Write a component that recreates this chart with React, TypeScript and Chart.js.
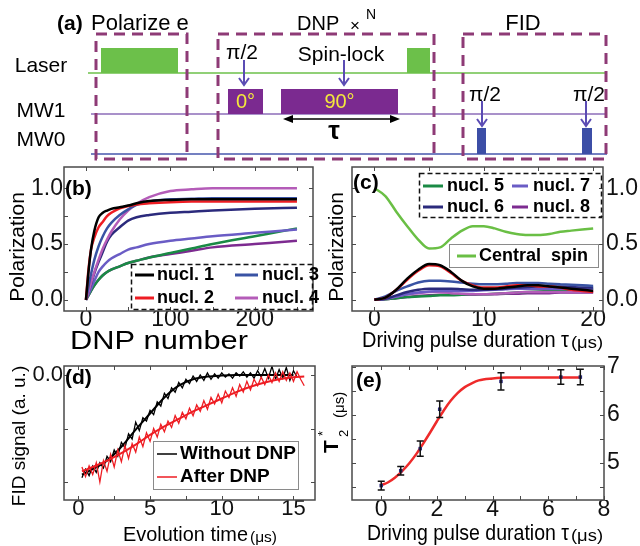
import React, { useEffect, useRef } from "react";
import { Chart, registerables } from "chart.js";

Chart.register(...registerables);

const W = 640;
const H = 546;
const SANS = "'Liberation Sans', Arial, sans-serif";

// ================= (a) pulse sequence (schematic time units) =================
const channelNames = ["Laser", "MW1", "MW0"];
const channelStart = [88, 91, 91];
const channelEnd = 607;
const laserPulses = [[101, 178], [407, 430]];
const mw1Pulses = [[228, 263], [281, 398]];
const mw1PhaseLabels = ["0°", "90°"];
const mw0Pulses = [[477, 486], [582, 592]];
const stageSpans = [[96, 187], [218, 434], [463, 606]];
const piHalfDnp = [244];
const piHalfFid = [482, 586];
const spinLockTime = 344;
const tauSpan = [283, 400];

// ================= (b) polarization vs DNP number =================
const dnpNumber = [0, 3, 6, 10, 15, 20, 25, 30, 40, 50, 60, 75, 100, 125, 150, 200, 250];
const nucl1B = [0, 0.25, 0.45, 0.62, 0.74, 0.78, 0.8, 0.815, 0.83, 0.845, 0.865, 0.885, 0.895, 0.9, 0.9, 0.9, 0.9];
const nucl2B = [0, 0.27, 0.45, 0.56, 0.65, 0.7, 0.75, 0.78, 0.82, 0.84, 0.855, 0.865, 0.875, 0.88, 0.88, 0.88, 0.88];
const nucl3B = [0, 0.12, 0.23, 0.36, 0.48, 0.57, 0.64, 0.69, 0.76, 0.81, 0.85, 0.88, 0.9, 0.905, 0.91, 0.91, 0.91];
const nucl4B = [0, 0.07, 0.15, 0.25, 0.36, 0.46, 0.54, 0.61, 0.72, 0.8, 0.86, 0.92, 0.975, 0.99, 1.0, 1.0, 1.0];
const nucl5B = [0, 0.04, 0.08, 0.13, 0.18, 0.22, 0.25, 0.27, 0.3, 0.33, 0.35, 0.38, 0.42, 0.46, 0.5, 0.57, 0.64];
const nucl6B = [0, 0.07, 0.14, 0.24, 0.34, 0.43, 0.52, 0.58, 0.65, 0.71, 0.74, 0.76, 0.78, 0.79, 0.8, 0.815, 0.825];
const nucl7B = [0, 0.05, 0.1, 0.17, 0.25, 0.3, 0.34, 0.37, 0.41, 0.45, 0.47, 0.5, 0.53, 0.55, 0.57, 0.6, 0.63];
const nucl8B = [0, 0.04, 0.08, 0.13, 0.18, 0.22, 0.25, 0.27, 0.3, 0.33, 0.35, 0.38, 0.41, 0.44, 0.47, 0.5, 0.53];
const bTicksX = [0, 100, 200];
const bTicksY = [0, 0.5, 1];

// ================= (c) polarization vs driving pulse duration =================
const tauC = [0, 1, 2, 3, 4, 5, 6, 7, 8, 9, 10, 11, 12, 13, 14, 15, 16, 17, 18, 19, 20];
const centralC = [1.0, 0.93, 0.79, 0.66, 0.54, 0.46, 0.47, 0.55, 0.62, 0.66, 0.66, 0.64, 0.61, 0.59, 0.58, 0.58, 0.59, 0.61, 0.62, 0.63, 0.64];
const nucl1C = [0, 0.02, 0.09, 0.19, 0.27, 0.32, 0.31, 0.25, 0.17, 0.12, 0.1, 0.1, 0.11, 0.12, 0.13, 0.13, 0.12, 0.11, 0.1, 0.09, 0.08];
const nucl2C = [0, 0.02, 0.09, 0.18, 0.26, 0.31, 0.3, 0.24, 0.17, 0.13, 0.11, 0.11, 0.12, 0.13, 0.13, 0.12, 0.12, 0.11, 0.09, 0.08, 0.07];
const nucl3C = [0, 0.03, 0.08, 0.12, 0.155, 0.17, 0.17, 0.165, 0.155, 0.145, 0.14, 0.14, 0.145, 0.15, 0.15, 0.15, 0.145, 0.14, 0.135, 0.13, 0.125];
const nucl4C = [0, 0.01, 0.03, 0.05, 0.06, 0.07, 0.07, 0.06, 0.055, 0.05, 0.05, 0.055, 0.06, 0.065, 0.07, 0.07, 0.07, 0.07, 0.07, 0.07, 0.07];
const nucl5C = [0, 0.005, 0.015, 0.025, 0.03, 0.035, 0.04, 0.04, 0.045, 0.05, 0.05, 0.055, 0.06, 0.065, 0.07, 0.075, 0.08, 0.085, 0.09, 0.095, 0.1];
const nucl6C = [0, 0.01, 0.04, 0.07, 0.09, 0.1, 0.1, 0.1, 0.095, 0.09, 0.09, 0.095, 0.1, 0.11, 0.115, 0.12, 0.12, 0.12, 0.115, 0.11, 0.11];
const nucl7C = [0, 0.01, 0.03, 0.05, 0.065, 0.075, 0.08, 0.08, 0.08, 0.08, 0.085, 0.09, 0.095, 0.1, 0.1, 0.1, 0.1, 0.1, 0.1, 0.1, 0.1];
const nucl8C = [0, 0.005, 0.015, 0.025, 0.035, 0.04, 0.045, 0.045, 0.045, 0.045, 0.05, 0.05, 0.055, 0.055, 0.06, 0.06, 0.06, 0.065, 0.065, 0.065, 0.065];
const cTicksX = [0, 10, 20];
const cTicksY = [0, 0.5, 1];

// ================= (d) FID signal =================
const timeD = [0.25, 0.5, 0.75, 1, 1.25, 1.5, 1.75, 2, 2.25, 2.5, 2.75, 3, 3.25, 3.5, 3.75, 4, 4.25, 4.5, 4.75, 5,
  5.25, 5.5, 5.75, 6, 6.25, 6.5, 6.75, 7, 7.25, 7.5, 7.75, 8, 8.25, 8.5, 8.75, 9, 9.25, 9.5, 9.75, 10,
  10.25, 10.5, 10.75, 11, 11.25, 11.5, 11.75, 12, 12.25, 12.5, 12.75, 13, 13.25, 13.5, 13.75, 14, 14.25, 14.5, 14.75, 15,
  15.25, 15.5, 15.75];
const withoutDnp = [-0.96, -0.88, -0.94, -0.85, -0.91, -0.82, -0.87, -0.76, -0.81, -0.7, -0.76, -0.63, -0.68, -0.55, -0.6, -0.44, -0.52, -0.4, -0.43, -0.33,
  -0.37, -0.25, -0.29, -0.17, -0.22, -0.12, -0.16, -0.07, -0.12, -0.04, -0.08, -0.01, -0.06, 0.0, -0.05, 0.02, -0.04, 0.01, -0.03, 0.02,
  -0.02, 0.01, -0.03, 0.02, -0.01, 0.03, -0.02, 0.02, -0.03, 0.04, -0.02, 0.06, -0.03, 0.08, -0.04, 0.05, -0.03, 0.07, -0.05, 0.04,
  -0.02];
const afterDnp = [-0.86, -0.95, -0.85, -0.93, -0.82, -1.0, -0.8, -0.9, -0.74, -0.86, -0.7, -0.81, -0.66, -0.78, -0.64, -0.72, -0.58, -0.67, -0.54, -0.62,
  -0.5, -0.58, -0.46, -0.53, -0.43, -0.49, -0.38, -0.45, -0.35, -0.41, -0.31, -0.38, -0.28, -0.34, -0.24, -0.32, -0.21, -0.27, -0.18, -0.26,
  -0.15, -0.21, -0.12, -0.2, -0.09, -0.16, -0.06, -0.14, -0.04, -0.1, -0.02, -0.09, 0.0, -0.07, 0.02, -0.06, 0.03, -0.05, 0.02, -0.06,
  0.03, -0.04, -0.1];
const fitTimeWithout = [0.25, 1, 2, 3, 4, 5, 6, 7, 8, 9, 10, 11, 12, 13, 14, 15];
const fitWithout = [-0.93, -0.88, -0.8, -0.67, -0.51, -0.36, -0.21, -0.1, -0.04, -0.015, -0.005, 0, 0, 0, 0, 0];
const fitTimeAfter = [0.25, 1, 2, 3, 4, 5, 6, 7, 8, 9, 10, 11, 12, 13, 14, 15, 15.75];
const fitAfter = [-0.9, -0.86, -0.8, -0.73, -0.65, -0.56, -0.48, -0.41, -0.34, -0.28, -0.22, -0.16, -0.11, -0.07, -0.04, -0.02, -0.015];
const dTicksX = [0, 5, 10, 15];
const dTicksY = [0];

// ================= (e) T2* vs driving pulse duration =================
const tauE = [0, 0.7, 1.4, 2.1, 4.3, 6.45, 7.15];
const t2Star = [4.53, 4.84, 5.3, 6.12, 6.7, 6.79, 6.79];
const t2Err = [0.09, 0.09, 0.16, 0.17, 0.18, 0.15, 0.16];
const fitTauE = [0, 0.25, 0.5, 0.75, 1, 1.25, 1.5, 1.75, 2, 2.25, 2.5, 2.75, 3, 3.25, 3.5, 4, 4.5, 5, 6, 7.2];
const fitT2 = [4.54, 4.6, 4.7, 4.83, 4.99, 5.18, 5.4, 5.63, 5.87, 6.1, 6.3, 6.46, 6.58, 6.66, 6.72, 6.76, 6.78, 6.78, 6.78, 6.78];
const eTicksX = [0, 2, 4, 6, 8];
const eTicksY = [5, 6, 7];

// ================= helpers =================
const COLORS: Record<string, string> = {
  "nucl. 1": "#000000",
  "nucl. 2": "#ee1d23",
  "nucl. 3": "#3953a4",
  "nucl. 4": "#b45cb8",
  "nucl. 5": "#1a8a45",
  "nucl. 6": "#2b2a7c",
  "nucl. 7": "#6a5cc5",
  "nucl. 8": "#7d2b90",
  "Central  spin": "#6abf45",
};

function pts(xs: number[], ys: number[]) {
  return ys.map((y, i) => ({ x: xs[i], y }));
}

function txt(ctx: CanvasRenderingContext2D, s: string, x: number, y: number, font: string, o: any = {}) {
  ctx.save();
  ctx.translate(x, y);
  if (o.rot) ctx.rotate(o.rot);
  ctx.font = font;
  ctx.textAlign = o.align || "left";
  ctx.textBaseline = o.baseline || "alphabetic";
  ctx.fillStyle = o.color || "#000";
  if (o.width) {
    const m = ctx.measureText(s).width;
    ctx.scale(o.width / m, 1);
  }
  ctx.fillText(s, 0, 0);
  ctx.restore();
}

function axis(o: { pos: string; min: number; max: number; ticks: number[]; fmt: (v: number) => string; size: number; font: number; pad: number }) {
  const horiz = o.pos === "bottom";
  return {
    type: "linear",
    position: o.pos,
    min: o.min,
    max: o.max,
    grid: { display: false, drawTicks: false, tickLength: 0 },
    border: { display: false },
    ticks: {
      autoSkip: false,
      maxRotation: 0,
      minRotation: 0,
      padding: o.pad,
      color: "#111",
      font: { family: SANS, size: o.font },
      callback: (v: any) => o.fmt(Number(v)),
    },
    afterBuildTicks: (s: any) => {
      s.ticks = o.ticks.map((v) => ({ value: v }));
    },
    afterFit: (s: any) => {
      if (horiz) s.height = o.size;
      else s.width = o.size;
      s.paddingLeft = 0;
      s.paddingRight = 0;
      s.paddingTop = 0;
      s.paddingBottom = 0;
    },
  };
}

function framePlugin(xMarks: number[], yMarks: number[]) {
  return {
    id: "frame",
    afterDatasetsDraw(chart: any) {
      const { ctx, chartArea: a } = chart;
      const xs = chart.scales.x;
      const ys = chart.scales.y;
      ctx.save();
      ctx.strokeStyle = "#4a4a4a";
      ctx.lineWidth = 1.5;
      ctx.strokeRect(a.left, a.top, a.right - a.left, a.bottom - a.top);
      ctx.lineWidth = 1;
      ctx.beginPath();
      xMarks.forEach((v) => {
        const p = Math.round(xs.getPixelForValue(v)) + 0.5;
        ctx.moveTo(p, a.top);
        ctx.lineTo(p, a.top + 4);
        ctx.moveTo(p, a.bottom);
        ctx.lineTo(p, a.bottom - 4);
      });
      yMarks.forEach((v) => {
        const p = Math.round(ys.getPixelForValue(v)) + 0.5;
        ctx.moveTo(a.left, p);
        ctx.lineTo(a.left + 4, p);
        ctx.moveTo(a.right, p);
        ctx.lineTo(a.right - 4, p);
      });
      ctx.stroke();
      ctx.restore();
    },
  };
}

function legendBox(ctx: CanvasRenderingContext2D, x: number, y: number, w: number, h: number, dashed: boolean) {
  ctx.save();
  ctx.lineWidth = dashed ? 1.5 : 1;
  ctx.strokeStyle = dashed ? "#111" : "#8a8a8a";
  if (dashed) ctx.setLineDash([5, 3]);
  ctx.strokeRect(x + 0.5, y + 0.5, w, h);
  ctx.restore();
}

function legendItem(ctx: CanvasRenderingContext2D, label: string, color: string, x0: number, x1: number, y: number, tx: number, lw: number, font: string) {
  ctx.save();
  ctx.strokeStyle = color;
  ctx.lineWidth = lw;
  ctx.beginPath();
  ctx.moveTo(x0, y);
  ctx.lineTo(x1, y);
  ctx.stroke();
  ctx.restore();
  txt(ctx, label, tx, y, font, { baseline: "middle" });
}

function baseOptions(padding: any, scales: any) {
  return {
    responsive: false,
    animation: false,
    devicePixelRatio: 1,
    events: [],
    layout: { padding },
    plugins: { legend: { display: false }, tooltip: { enabled: false } },
    scales,
  };
}

const lineDs = (label: string, data: any[], color: string, width: number) => ({
  label,
  data,
  borderColor: color,
  backgroundColor: color,
  borderWidth: width,
  pointRadius: 0,
  cubicInterpolationMode: "monotone",
  fill: false,
});

// ================= chart configs =================
const ROW_Y = [73, 114, 154];

function makeA() {
  const lineColors = ["#6cc04a", "#8d6cb8", "#4656ac"];
  const plugin = {
    id: "seq",
    afterDatasetsDraw(chart: any) {
      const ctx: CanvasRenderingContext2D = chart.ctx;
      const X = (v: number) => chart.scales.x.getPixelForValue(v);
      const Y = (v: number) => chart.scales.y.getPixelForValue(v);
      const rect = (a: number, b: number, top: number, bottom: number, c: string) => {
        ctx.fillStyle = c;
        ctx.fillRect(X(a), Y(top), X(b) - X(a), Y(bottom) - Y(top));
      };
      ctx.save();
      laserPulses.forEach(([a, b]) => rect(a, b, ROW_Y[0] - 25, ROW_Y[0], "#6cc04a"));
      mw1Pulses.forEach(([a, b], i) => {
        rect(a, b, ROW_Y[1] - 25, ROW_Y[1], "#7b2a90");
        txt(ctx, mw1PhaseLabels[i], (X(a) + X(b)) / 2, Y(ROW_Y[1] - 12), `20px ${SANS}`, { align: "center", baseline: "middle", color: "#f3e83c" });
      });
      mw0Pulses.forEach(([a, b]) => rect(a, b, ROW_Y[2] - 26, ROW_Y[2], "#3c4ea6"));

      const down = (x: number, y0: number, y1: number) => {
        ctx.strokeStyle = "#5b4cb4";
        ctx.lineWidth = 2;
        ctx.beginPath();
        ctx.moveTo(X(x), Y(y0));
        ctx.lineTo(X(x), Y(y1));
        ctx.moveTo(X(x) - 5, Y(y1) - 7);
        ctx.lineTo(X(x), Y(y1));
        ctx.lineTo(X(x) + 5, Y(y1) - 7);
        ctx.stroke();
      };
      piHalfDnp.forEach((t) => {
        down(t, 60, 85);
        txt(ctx, "π/2", X(t) - 2, 53, `21px ${SANS}`, { align: "center", baseline: "middle" });
      });
      down(spinLockTime, 60, 85);
      txt(ctx, "Spin-lock", X(spinLockTime) - 3, 55, `21px ${SANS}`, { align: "center", baseline: "middle" });
      piHalfFid.forEach((t) => {
        down(t, 101, 126);
        txt(ctx, "π/2", X(t) + 3, 95, `21px ${SANS}`, { align: "center", baseline: "middle" });
      });

      const ty = Y(119);
      ctx.strokeStyle = "#000";
      ctx.fillStyle = "#000";
      ctx.lineWidth = 1.5;
      ctx.beginPath();
      ctx.moveTo(X(tauSpan[0]) + 4, ty);
      ctx.lineTo(X(tauSpan[1]) - 4, ty);
      ctx.stroke();
      ctx.beginPath();
      ctx.moveTo(X(tauSpan[0]), ty);
      ctx.lineTo(X(tauSpan[0]) + 10, ty - 4);
      ctx.lineTo(X(tauSpan[0]) + 10, ty + 4);
      ctx.closePath();
      ctx.moveTo(X(tauSpan[1]), ty);
      ctx.lineTo(X(tauSpan[1]) - 10, ty - 4);
      ctx.lineTo(X(tauSpan[1]) - 10, ty + 4);
      ctx.closePath();
      ctx.fill();
      txt(ctx, "τ", 334, 132, `bold 26px ${SANS}`, { align: "center", baseline: "middle" });

      ctx.strokeStyle = "#8e3a76";
      ctx.lineWidth = 3;
      ctx.setLineDash([11, 7]);
      stageSpans.forEach(([a, b]) => {
        ctx.strokeRect(X(a), Y(34), X(b) - X(a), Y(159) - Y(34));
      });
      ctx.setLineDash([]);

      txt(ctx, "(a)", 57, 24, `bold 21px ${SANS}`, { baseline: "middle" });
      txt(ctx, "Polarize e", 91, 24, `22px ${SANS}`, { baseline: "middle" });
      txt(ctx, "DNP", 297, 24, `20px ${SANS}`, { baseline: "middle" });
      txt(ctx, "×", 355, 26, `17px ${SANS}`, { align: "center", baseline: "middle" });
      txt(ctx, "N", 366, 15, `14px ${SANS}`, { baseline: "middle" });
      txt(ctx, "FID", 523, 24, `22px ${SANS}`, { align: "center", baseline: "middle" });
      channelNames.forEach((n, i) => {
        txt(ctx, n, 41, [66, 111, 140][i], `21px ${SANS}`, { align: "center", baseline: "middle" });
      });
      ctx.restore();
    },
  };
  return {
    type: "line",
    data: {
      datasets: channelNames.map((n, i) => ({
        label: n,
        data: [{ x: channelStart[i], y: ROW_Y[i] }, { x: channelEnd, y: ROW_Y[i] }],
        borderColor: lineColors[i],
        borderWidth: 1.5,
        pointRadius: 0,
      })),
    },
    options: baseOptions(0, {
      x: { type: "linear", min: 0, max: W, display: false },
      y: { type: "linear", min: 0, max: H, reverse: true, display: false },
    }),
    plugins: [plugin],
  };
}

function makeB() {
  const series: [string, number[]][] = [
    ["nucl. 1", nucl1B],
    ["nucl. 2", nucl2B],
    ["nucl. 3", nucl3B],
    ["nucl. 4", nucl4B],
    ["nucl. 6", nucl6B],
    ["nucl. 7", nucl7B],
    ["nucl. 5", nucl5B],
    ["nucl. 8", nucl8B],
  ];
  const extras = {
    id: "extrasB",
    afterDraw(chart: any) {
      const ctx = chart.ctx;
      txt(ctx, "(b)", 65, 189, `bold 21px ${SANS}`, { baseline: "middle" });
      legendBox(ctx, 131, 264, 181, 45, true);
      const f = `bold 18px ${SANS}`;
      legendItem(ctx, "nucl. 1", COLORS["nucl. 1"], 135, 154, 275, 157, 3, f);
      legendItem(ctx, "nucl. 3", COLORS["nucl. 3"], 235, 258, 275, 262, 3, f);
      legendItem(ctx, "nucl. 2", COLORS["nucl. 2"], 135, 154, 298, 157, 3, f);
      legendItem(ctx, "nucl. 4", COLORS["nucl. 4"], 235, 258, 298, 262, 3, f);
      txt(ctx, "Polarization", 18, 247, `21px ${SANS}`, { rot: -Math.PI / 2, align: "center", baseline: "middle" });
      txt(ctx, "DNP number", 70, 349, `25px ${SANS}`, { width: 178 });
    },
  };
  return {
    type: "line",
    data: { datasets: series.map(([l, v]) => lineDs(l, pts(dnpNumber, v), COLORS[l], 2.5)) },
    options: baseOptions({ left: 0, top: 167, right: 327, bottom: 0 }, {
      x: axis({ pos: "bottom", min: -26, max: 269, ticks: bTicksX, fmt: (v) => String(v), size: 235, font: 23, pad: -5 }),
      y: axis({ pos: "left", min: -0.1, max: 1.19, ticks: bTicksY, fmt: (v) => v.toFixed(1), size: 64, font: 23, pad: 1 }),
    }),
    plugins: [framePlugin([0, 50, 100, 150, 200, 250], [0, 0.25, 0.5, 0.75, 1]), extras],
  };
}

function makeC() {
  const series: [string, number[]][] = [
    ["Central  spin", centralC],
    ["nucl. 1", nucl1C],
    ["nucl. 2", nucl2C],
    ["nucl. 3", nucl3C],
    ["nucl. 6", nucl6C],
    ["nucl. 7", nucl7C],
    ["nucl. 4", nucl4C],
    ["nucl. 5", nucl5C],
    ["nucl. 8", nucl8C],
  ];
  const extras = {
    id: "extrasC",
    afterDraw(chart: any) {
      const ctx = chart.ctx;
      txt(ctx, "(c)", 353, 183, `bold 21px ${SANS}`, { baseline: "middle" });
      const f = `bold 18px ${SANS}`;
      legendBox(ctx, 419, 173, 182, 44, true);
      legendItem(ctx, "nucl. 5", COLORS["nucl. 5"], 423, 443, 186, 447, 3, f);
      legendItem(ctx, "nucl. 7", COLORS["nucl. 7"], 512, 528, 186, 533, 3, f);
      legendItem(ctx, "nucl. 6", COLORS["nucl. 6"], 423, 443, 207, 447, 3, f);
      legendItem(ctx, "nucl. 8", COLORS["nucl. 8"], 512, 528, 207, 533, 3, f);
      ctx.fillStyle = "#fff";
      ctx.fillRect(449, 244, 149, 23);
      legendBox(ctx, 449, 244, 149, 23, false);
      legendItem(ctx, "Central  spin", COLORS["Central  spin"], 457, 476, 256, 479, 3, f);
      txt(ctx, "Polarization", 337, 247, `21px ${SANS}`, { rot: -Math.PI / 2, align: "center", baseline: "middle" });
      txt(ctx, "Driving pulse duration τ", 362, 347, `22px ${SANS}`, { width: 207 });
      txt(ctx, "(μs)", 571, 348, `16px ${SANS}`, { width: 32 });
    },
  };
  return {
    type: "line",
    data: { datasets: series.map(([l, v]) => lineDs(l, pts(tauC, v), COLORS[l], 2.5)) },
    options: baseOptions({ left: 352, top: 167, right: 0, bottom: 0 }, {
      x: axis({ pos: "bottom", min: -2.05, max: 20.9, ticks: cTicksX, fmt: (v) => String(v), size: 235, font: 23, pad: -5 }),
      y: axis({ pos: "right", min: -0.1, max: 1.19, ticks: cTicksY, fmt: (v) => v.toFixed(1), size: 37, font: 23, pad: 3 }),
    }),
    plugins: [framePlugin([0, 5, 10, 15, 20], [0, 0.25, 0.5, 0.75, 1]), extras],
  };
}

function makeD() {
  const extras = {
    id: "extrasD",
    afterDraw(chart: any) {
      const ctx = chart.ctx;
      txt(ctx, "(d)", 65, 378, `bold 21px ${SANS}`, { baseline: "middle" });
      ctx.fillStyle = "#fff";
      ctx.fillRect(153, 441, 145, 48);
      legendBox(ctx, 153, 441, 145, 48, false);
      const f = `bold 19px ${SANS}`;
      legendItem(ctx, "Without DNP", "#000", 157, 177, 454, 180, 1.5, f);
      legendItem(ctx, "After DNP", "#ee1d23", 157, 177, 477, 180, 1.5, f);
      txt(ctx, "FID signal (a. u.)", 20, 436, `19px ${SANS}`, { rot: -Math.PI / 2, align: "center", baseline: "middle" });
      txt(ctx, "Evolution time", 123, 541, `20px ${SANS}`, { width: 125 });
      txt(ctx, "(μs)", 250, 542, `15px ${SANS}`, { width: 27 });
    },
  };
  return {
    type: "line",
    data: {
      datasets: [
        lineDs("After DNP fit", pts(fitTimeAfter, fitAfter), "#ee1d23", 2),
        { ...lineDs("After DNP", pts(timeD, afterDnp), "#ee1d23", 1.3), cubicInterpolationMode: "default", tension: 0 },
        lineDs("Without DNP fit", pts(fitTimeWithout, fitWithout), "#000", 2),
        { ...lineDs("Without DNP", pts(timeD, withoutDnp), "#000", 1.3), cubicInterpolationMode: "default", tension: 0 },
      ],
    },
    options: baseOptions({ left: 0, top: 366, right: 325, bottom: 0 }, {
      x: axis({ pos: "bottom", min: -1, max: 16.5, ticks: dTicksX, fmt: (v) => String(v), size: 46, font: 22, pad: -4 }),
      y: axis({ pos: "left", min: -1.168, max: 0.084, ticks: dTicksY, fmt: (v) => v.toFixed(1), size: 64, font: 22, pad: 1 }),
    }),
    plugins: [framePlugin([0, 2.5, 5, 7.5, 10, 12.5, 15], [0, -0.5, -1]), extras],
  };
}

function makeE() {
  const extras = {
    id: "extrasE",
    afterDatasetsDraw(chart: any) {
      const ctx: CanvasRenderingContext2D = chart.ctx;
      const xs = chart.scales.x;
      const ys = chart.scales.y;
      ctx.save();
      ctx.strokeStyle = "#111";
      ctx.lineWidth = 1.5;
      ctx.beginPath();
      tauE.forEach((t, i) => {
        const px = xs.getPixelForValue(t);
        const y0 = ys.getPixelForValue(t2Star[i] - t2Err[i]);
        const y1 = ys.getPixelForValue(t2Star[i] + t2Err[i]);
        ctx.moveTo(px, y0);
        ctx.lineTo(px, y1);
        ctx.moveTo(px - 3.5, y0);
        ctx.lineTo(px + 3.5, y0);
        ctx.moveTo(px - 3.5, y1);
        ctx.lineTo(px + 3.5, y1);
      });
      ctx.stroke();
      ctx.restore();
    },
    afterDraw(chart: any) {
      const ctx: CanvasRenderingContext2D = chart.ctx;
      txt(ctx, "(e)", 356, 381, `bold 21px ${SANS}`, { baseline: "middle" });
      txt(ctx, "Driving pulse duration τ", 367, 540, `22px ${SANS}`, { width: 202 });
      txt(ctx, "(μs)", 571, 541, `16px ${SANS}`, { width: 32 });
      ctx.save();
      ctx.translate(338, 453);
      ctx.rotate(-Math.PI / 2);
      ctx.fillStyle = "#000";
      ctx.font = `bold 21px ${SANS}`;
      ctx.textBaseline = "alphabetic";
      ctx.fillText("T", 0, 0);
      ctx.font = `13px ${SANS}`;
      ctx.fillText("2", 16, 10);
      ctx.fillText("*", 17, -11);
      ctx.font = `15px ${SANS}`;
      ctx.fillText("(μs)", 35, 6);
      ctx.restore();
    },
  };
  return {
    type: "line",
    data: {
      datasets: [
        {
          label: "T2*",
          data: pts(tauE, t2Star),
          showLine: false,
          pointStyle: "rect",
          pointRadius: 2.5,
          borderWidth: 0,
          backgroundColor: "#2b2a7c",
          borderColor: "#2b2a7c",
        },
        lineDs("fit", pts(fitTauE, fitT2), "#ee2a2a", 2.5),
      ],
    },
    options: baseOptions({ left: 352, top: 366, right: 0, bottom: 0 }, {
      x: axis({ pos: "bottom", min: -1.05, max: 8, ticks: eTicksX, fmt: (v) => String(v), size: 46, font: 23, pad: -4 }),
      y: axis({ pos: "right", min: 4.23, max: 7.02, ticks: eTicksY, fmt: (v) => String(v), size: 36, font: 23, pad: 3 }),
    }),
    plugins: [framePlugin([0, 1, 2, 3, 4, 5, 6, 7, 8], [4.5, 5, 5.5, 6, 6.5, 7]), extras],
  };
}

function ChartLayer({ make }: { make: () => any }) {
  const ref = useRef<HTMLCanvasElement>(null);
  useEffect(() => {
    const chart = new Chart(ref.current as HTMLCanvasElement, make());
    return () => chart.destroy();
  }, []);
  return (
    <canvas
      ref={ref}
      width={W}
      height={H}
      style={{ position: "absolute", left: 0, top: 0, width: W, height: H }}
    />
  );
}

export default function App() {
  useEffect(() => {
    document.body.style.margin = "0";
  }, []);
  return (
    <div style={{ position: "fixed", left: 0, top: 0, width: W, height: H, background: "#fff", overflow: "hidden" }}>
      <ChartLayer make={makeA} />
      <ChartLayer make={makeB} />
      <ChartLayer make={makeC} />
      <ChartLayer make={makeD} />
      <ChartLayer make={makeE} />
    </div>
  );
}
